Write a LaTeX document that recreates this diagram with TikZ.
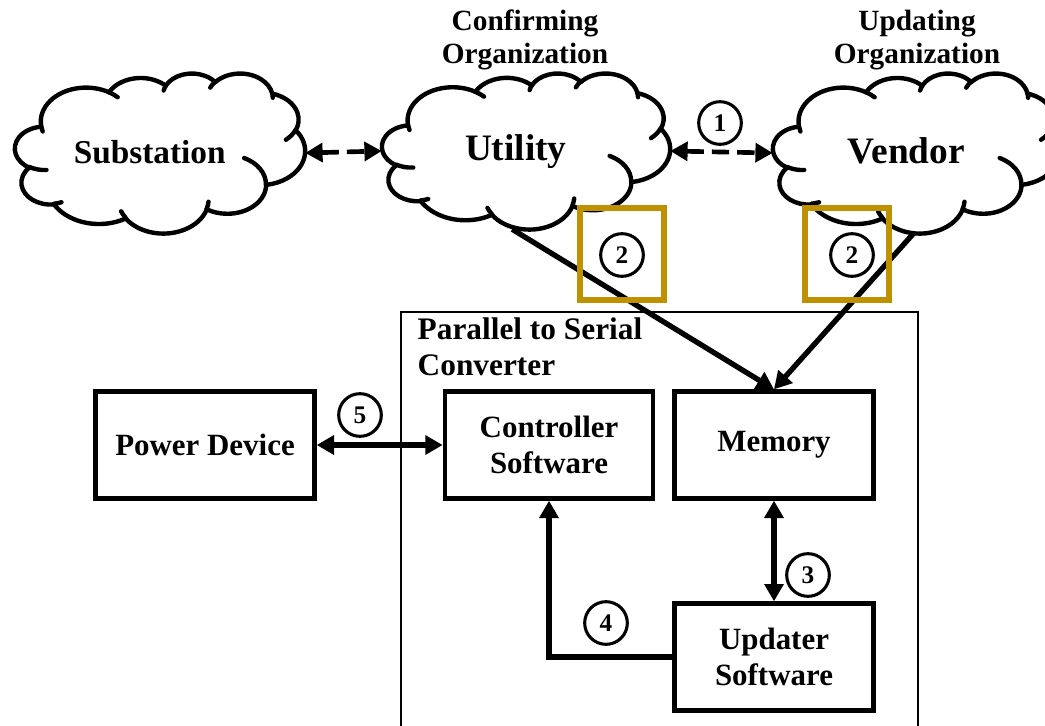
\documentclass[tikz,border=0pt]{standalone}
\usepackage{fontspec}
\setmainfont{Liberation Serif}
\usetikzlibrary{arrows.meta}
\definecolor{oro}{RGB}{191,144,0}
\tikzstyle{schema}=[
    x=0.75pt, y=-0.75pt,
    bordo nuvola/.style={line width=3.3pt, line cap=round, line join=round},
    cornice/.style={rectangle, inner sep=0pt},
    testo nuvola/.style={anchor=base, font={\bfseries\fontsize{28}{30}\selectfont}},
    blocco/.style={draw, line width=3.5pt, minimum height=80pt, align=center,
        font={\bfseries\fontsize{23.2}{26.5}\selectfont}},
    numero/.style={circle, draw, line width=2.3pt, minimum size=32pt, inner sep=0pt,
        font={\bfseries\fontsize{19}{19}\selectfont}},
    etichetta/.style={align=center, font={\bfseries\fontsize{22}{25}\selectfont}},
    evidenzia/.style={draw=oro, line width=4.5pt, minimum width=63pt, minimum height=69pt},
    tratteggio/.style={line width=3.5pt, dash pattern=on 13pt off 6pt,
        {Triangle[length=13pt,width=14pt]}-{Triangle[length=13pt,width=14pt]}},
    doppia/.style={line width=4pt,
        {Triangle[length=13pt,width=14pt]}-{Triangle[length=13pt,width=14pt]}},
    singola/.style={line width=4pt, -{Triangle[length=13pt,width=14pt]}},
    contenitore/.style={line width=1pt},
]

% one arc of the cloud outline, angles as seen from the centre
\newcommand{\nuvarco}[4]{%
    \pgfmathsetmacro{\tA}{atan2((#1)*sin(#3),(#2)*cos(#3))}
    \pgfmathsetmacro{\tB}{atan2((#1)*sin(#3+#4),(#2)*cos(#3+#4))}
    \pgfmathsetmacro{\tD}{\tB-\tA}
    \pgfmathsetmacro{\tD}{\tD<0 ? \tD+360 : \tD}
    \draw[bordo nuvola] (cur) arc[start angle=\tA, delta angle=\tD,
        x radius=#1, y radius=#2] coordinate (cur);
}
% cloud: name, left, top, width, height, text
\newcommand{\nuvola}[6]{
    \begin{scope}[shift={(#2,#3)}, xscale=#4/432, yscale=#5/432]
    \coordinate (cur) at (39,143.7);
    \foreach \rx/\ry/\sa/\sw in {67.53/91.90/-190.4875/123.7805,
        53.33/72.67/-144.1024/89.9452, 43.65/59.45/-145.8079/99.7230,
        48.57/65.95/-130.9861/117.2417, 53.33/72.73/-78.7089/109.0269,
        67.75/92.20/-46.2673/130.2690, 57.85/78.67/0.6250/114.0333,
        67.52/92.15/22.4516/115.1726, 77.20/105.43/66.2426/75.7110,
        43.60/59.18/-274.9421/146.7356, 43.45/59.45/-246.8285/152.5189}
        {\nuvarco{\rx}{\ry}{\sa}{\sw}}
    \foreach \mx/\my/\rx/\ry/\sa/\sw in {46.93/261.77/43.45/59.45/86.7420/26.4295,
        69.28/348.99/43.60/59.18/73.6105/11.4475,
        164.78/390.90/67.52/92.15/137.6242/14.0811,
        288.27/347.51/67.52/92.15/6.4533/15.9984,
        341.29/229.54/57.85/78.67/-70.2924/70.9174,
        417.98/153.54/53.33/72.73/30.3180/27.7515,
        383.24/54.26/48.57/65.95/-13.7443/14.8519,
        290.78/39.52/48.57/65.95/-149.1815/18.1988,
        221.41/47.20/43.65/59.45/-163.4943/17.6942,
        140.00/51.92/67.53/91.90/-66.7070/12.3194,
        41.27/157.89/67.53/91.90/157.6544/11.8582}
        {\coordinate (cur) at (\mx,\my); \nuvarco{\rx}{\ry}{\sa}{\sw}}
    \end{scope}
    \node[cornice, minimum width=#4*0.75pt, minimum height=#5*0.75pt]
        (#1) at (#2+#4/2,#3+#5/2) {};
    \node[testo nuvola] (#1 t) at (#2+0.4646*#4,#3+0.563*#5) {#6};
}

\begin{document}
\begin{tikzpicture}[schema]
    \useasboundingbox (0,0) rectangle (1045,725);
    \clip (0,0) rectangle (1045,725);

    % clouds
    \nuvola{sub}{15}{73}{290}{160}{\fontsize{25}{28}\selectfont Substation}
    \nuvola{util}{382}{73}{288}{156}{Utility}
    \nuvola{vend}{773}{73}{287}{160}{Vendor}

    \node[etichetta] (conf) at (525,40) {Confirming\\Organization};
    \node[etichetta] (agg) at (917,40) {Updating\\Organization};

    % converter
    \draw[contenitore] (401,760) |- (918,312) -- (918,760);
    \node[anchor=north west, align=left, font={\bfseries\fontsize{23.5}{27}\selectfont}]
        (conv) at (413,313) {Parallel to Serial\\Converter};

    \node[blocco, minimum width=164pt] (power) at (205,445) {Power Device};
    \node[blocco, minimum width=156pt] (ctrl) at (549,445) {Controller\\Software};
    \node[blocco, minimum width=149pt] (mem) at (774,445) {Memory};
    \node[blocco, minimum width=149pt] (upd) at (774,657) {Updater\\Software};

    % connectors
    \draw[tratteggio] (sub.east) -- (util.west);
    \draw[tratteggio] (util.east) -- (vend.west);
    \draw[singola] (util.-100) -- (mem.north);
    \draw[singola] (vend.-92) -- (mem.north);
    \draw[doppia] (power) -- (ctrl);
    \draw[doppia] (mem) -- (upd);
    \draw[singola] (upd.west) -| (ctrl.south);

    % highlights and steps
    \node[evidenzia] (evid1) at (622,254) {};
    \node[evidenzia] (evid2) at (847,254) {};
    \node[numero] (n1) at (720,123) {1};
    \node[numero] (n2a) at (622,255) {2};
    \node[numero] (n2b) at (852,255) {2};
    \node[numero] (n3) at (808,575) {3};
    \node[numero] (n4) at (606,623) {4};
    \node[numero] (n5) at (360,415) {5};
\end{tikzpicture}
\end{document}
